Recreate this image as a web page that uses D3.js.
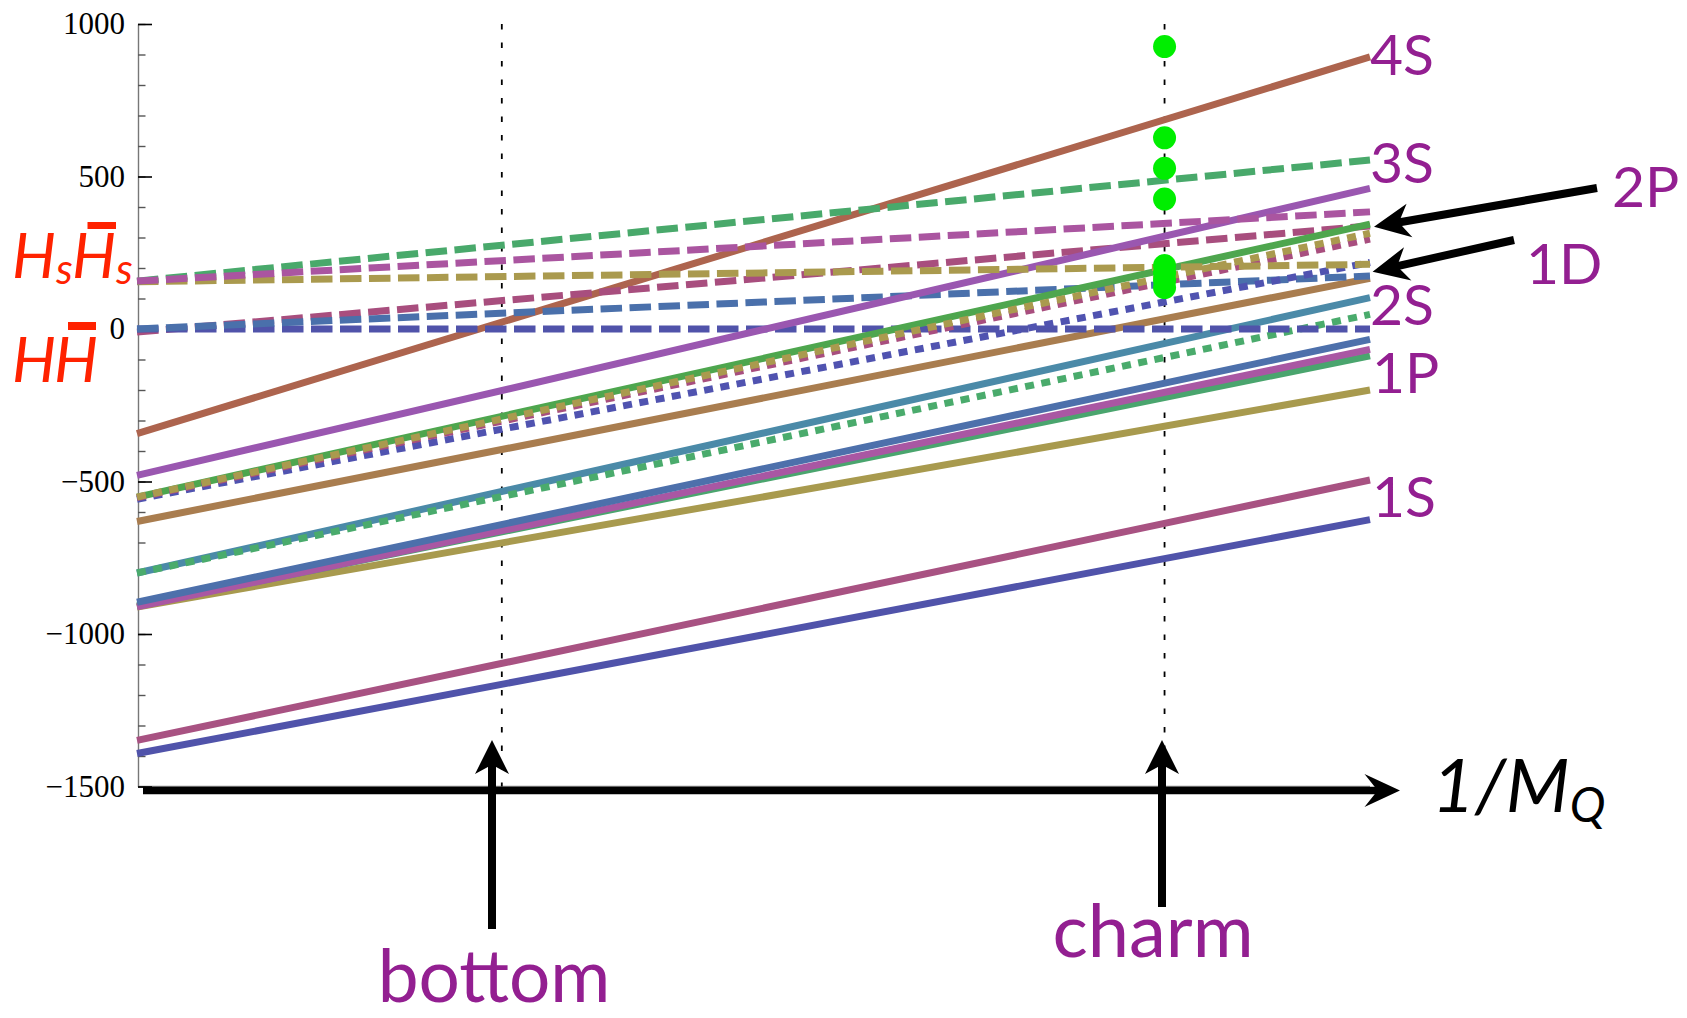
<!DOCTYPE html>
<html><head><meta charset="utf-8">
<script src="https://cdn.jsdelivr.net/npm/d3@7"></script>
<style>html,body{margin:0;padding:0;background:#fff}svg{display:block}</style>
</head><body>
<svg id="c" width="1687" height="1018"></svg>
<script>
// ---------- data ----------
const xAt = [0, 0.8];                 // 1/M_Q (GeV^-1) at the two ends of every line
const massBottom = 0.2367;            // 1/m_b
const massCharm = 0.6667;             // 1/m_c
const seriesNames = ["1S a","1S b","1P a","1P b","1P c","1P d","2S a","2S b (dotted)","2S c","4S",
  "HH-bar a","HH-bar b","HH-bar c","3S","2P","1D a","1D b","1D c","HsHs a","HsHs b","HsHs c"];
const seriesStyle = ["solid","solid","solid","solid","solid","solid","solid","dotted","solid","solid",
  "dashed","dashed","dashed","solid","solid","dotted","dotted","dotted","dashed","dashed","dashed"];
const seriesColor = ["#5053aa","#a85282","#a89a4e","#4aa56e","#a957a3","#4d70ab","#4b8aa8","#4aab6c","#a97d4f","#ad644e",
  "#a84e7e","#5053aa","#4a70ab","#9a57b0","#4ea64e","#5053b0","#a84e7e","#aa9a4e","#aa9a4e","#49a96b","#aa55a0"];
const startValues = [-1392,-1349,-912,-908,-911,-896,-800,-800,-631,-343,
  -10,0,0,-480,-551,-558,-553,-551,155,157,157];
const endValues = [-625,-495,-200,-88,-67,-34,103,48,166,892,
  338,0,174,461,344,218,295,314,212,554,384];
const charmDots = [926, 627, 527, 426, 208, 184, 160, 136];
const yTicks = [1000, 500, 0, -500, -1000, -1500];
const yMinorTicks = d3.range(-1500, 1001, 100);

// ---------- scales ----------
const svg = d3.select("#c");
const x = d3.scaleLinear().domain([0, 0.8]).range([137, 1370]);
const y = d3.scaleLinear().domain([-1500, 1000]).range([786.5, 24]);

// ---------- axes ----------
svg.append("line").attr("x1",138).attr("x2",1370).attr("y1",y(-1500)).attr("y2",y(-1500))
  .attr("stroke","#888").attr("stroke-width",1.3);

const gMinor = svg.append("g").attr("transform","translate(138,0)")
  .call(d3.axisLeft(y).tickValues(yMinorTicks).tickSize(-7.5).tickSizeOuter(0).tickFormat(""));
gMinor.select(".domain").attr("stroke","#777").attr("stroke-width",1.4);
gMinor.selectAll(".tick line").attr("stroke","#555").attr("stroke-width",1.4);

const gMajor = svg.append("g").attr("transform","translate(138,0)")
  .call(d3.axisLeft(y).tickValues(yTicks).tickSize(-14).tickSizeOuter(0).tickPadding(13)
    .tickFormat(d3.format("d")));
gMajor.select(".domain").remove();
gMajor.selectAll(".tick line").attr("stroke","#000").attr("stroke-width",1.6);
gMajor.attr("font-family","'Liberation Serif', 'DejaVu Serif', serif").attr("font-size",31);
gMajor.selectAll(".tick text").attr("fill","#000");

// ---------- vertical dotted guides ----------
[massBottom, massCharm].forEach(m => {
  svg.append("line").attr("x1",x(m)).attr("x2",x(m)).attr("y1",y(1000)).attr("y2",y(-1500))
    .attr("stroke","#000").attr("stroke-width",1.8).attr("stroke-dasharray","5.5 13");
});

// ---------- series ----------
const line = d3.line().x(d => x(d[0])).y(d => y(d[1]));
const dashFor = {solid:null, dashed:"21.5 7.5", dotted:"9 7.5"};
seriesNames.forEach((n, i) => {
  const pts = [[xAt[0], startValues[i]], [xAt[1], endValues[i]]];
  svg.append("path").attr("d", line(pts))
    .attr("fill","none").attr("stroke", seriesColor[i]).attr("stroke-width",7)
    .attr("stroke-dasharray", dashFor[seriesStyle[i]])
    .attr("stroke-linecap","butt");
});

// ---------- charm data points ----------
svg.append("g").selectAll("circle").data(charmDots).join("circle")
  .attr("cx", x(massCharm)).attr("cy", d => y(d)).attr("r", 11.5).attr("fill","#00ee00");

// ---------- arrows ----------
function arrow(x1,y1,x2,y2,w,L,Wd,notch){
  const dx=x2-x1, dy=y2-y1, len=Math.hypot(dx,dy), ux=dx/len, uy=dy/len, nx=-uy, ny=ux;
  const bx=x2-L*ux, by=y2-L*uy, kx=x2-notch*L*ux, ky=y2-notch*L*uy;
  svg.append("line").attr("x1",x1).attr("y1",y1).attr("x2",kx+2*ux).attr("y2",ky+2*uy)
    .attr("stroke","#000").attr("stroke-width",w);
  svg.append("polygon").attr("points",[[x2,y2],[bx+Wd*nx,by+Wd*ny],[kx,ky],[bx-Wd*nx,by-Wd*ny]].map(p=>p.join(",")).join(" "))
    .attr("fill","#000");
}
arrow(143, 790.5, 1400, 790.5, 7.5, 35.5, 16.5, 0.63);
arrow(492, 929, 492, 740, 8, 34, 17, 0.73);
arrow(1162, 907, 1162, 740, 8, 34, 17, 0.73);
arrow(1597, 188, 1374, 226.7, 8, 36, 17, 0.7);
arrow(1514, 240, 1372.6, 271.7, 8, 36, 17, 0.7);

// ---------- labels ----------
const sans = "Lato, 'Open Sans', 'DejaVu Sans', sans-serif";
const purple = "#931f91";
function lab(t, xx, yy, size, anchor){
  return svg.append("text").attr("x",xx).attr("y",yy).attr("font-family",sans)
    .attr("font-size",size).attr("fill",purple).attr("text-anchor",anchor||"start").text(t);
}
lab("4S",1370,75,57); lab("3S",1370,183,57); lab("2S",1370,325,57);
lab("1P",1372,393,57); lab("1S",1372,517,57);
lab("2P",1612,207,57); lab("1D",1526,284,57);
lab("bottom",494,1002,73,"middle"); lab("charm",1153,957,74,"middle");

const t = svg.append("text").attr("x",1432).attr("y",812).attr("font-family",sans)
  .attr("font-style","italic").attr("font-size",74).attr("fill","#000");
t.append("tspan").text("1/M");
t.append("tspan").attr("font-size",48).attr("dy",10).text("Q");

const red = "#ff2200";
function rt(s, xx, yy, size){
  svg.append("text").attr("x",xx).attr("y",yy).attr("font-family",sans).attr("font-style","italic")
    .attr("font-size",size).attr("fill",red).text(s);
}
rt("H",12,278,62); rt("s",56,284,42); rt("H",72,278,62); rt("s",116,284,42);
svg.append("rect").attr("x",87.5).attr("y",222).attr("width",28.5).attr("height",7).attr("fill",red);
rt("H",12,382,62); rt("H",54,382,62);
svg.append("rect").attr("x",68).attr("y",322).attr("width",28).attr("height",8).attr("fill",red);
</script>
</body></html>
